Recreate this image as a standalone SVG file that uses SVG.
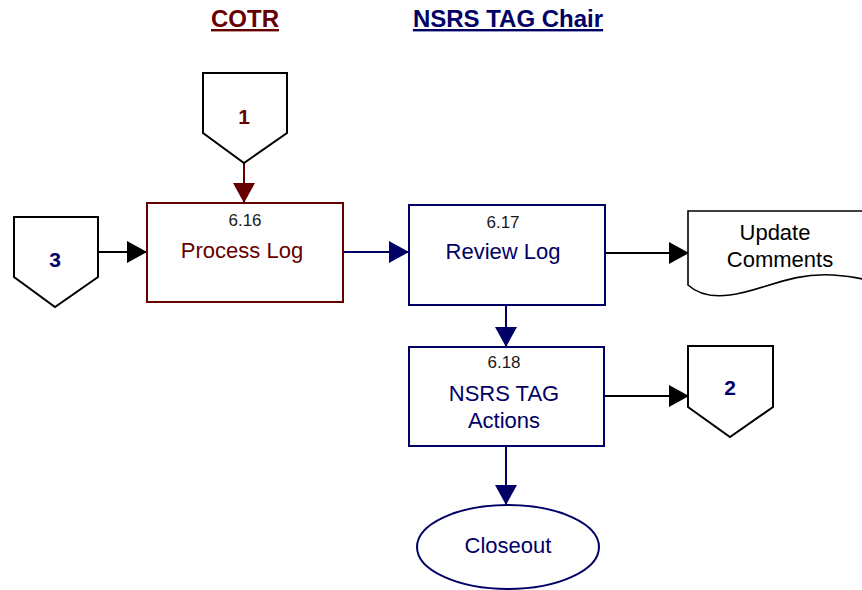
<svg xmlns="http://www.w3.org/2000/svg" width="862" height="590" viewBox="0 0 862 590">
<style>
text{font-family:"Liberation Sans",Arial,sans-serif;text-anchor:middle}
.hdr{font-size:24px;font-weight:bold;text-decoration:underline;text-decoration-thickness:3px}
.num{font-size:17px;fill:#1a1a1a}
.lbl{font-size:22px}
.conn{font-size:21px;font-weight:bold}
.red{fill:#660000}
.navy{fill:#000066}
.box{fill:#fff;stroke-width:2}
.shape{fill:#fff;stroke:#000;stroke-width:2}
.ln{fill:none;stroke-width:2}
</style>
<defs>
<marker id="aK" markerUnits="userSpaceOnUse" markerWidth="22" markerHeight="24" refX="20" refY="11" orient="auto"><path d="M0,0 L20,11 L0,22 Z" fill="#000"/></marker>
<marker id="aN" markerUnits="userSpaceOnUse" markerWidth="22" markerHeight="24" refX="20" refY="11" orient="auto"><path d="M0,0 L20,11 L0,22 Z" fill="#000066"/></marker>
<marker id="aR" markerUnits="userSpaceOnUse" markerWidth="22" markerHeight="24" refX="20" refY="11" orient="auto"><path d="M0,0 L20,11 L0,22 Z" fill="#660000"/></marker>
</defs>
<g id="headers">
<text x="245" y="27" class="hdr red">COTR</text>
<text x="508" y="27" class="hdr navy">NSRS TAG Chair</text>
</g>
<g id="connectors">
<line x1="244" y1="163" x2="244" y2="203" class="ln" stroke="#660000" marker-end="url(#aR)"/>
<line x1="98" y1="252" x2="147" y2="252" class="ln" stroke="#000" marker-end="url(#aK)"/>
<line x1="343" y1="252" x2="409" y2="252" class="ln" stroke="#000066" marker-end="url(#aN)"/>
<line x1="605" y1="253" x2="689" y2="253" class="ln" stroke="#000" marker-end="url(#aK)"/>
<line x1="506" y1="305" x2="506" y2="347" class="ln" stroke="#000066" marker-end="url(#aN)"/>
<line x1="605" y1="396" x2="689" y2="396" class="ln" stroke="#000" marker-end="url(#aK)"/>
<line x1="506" y1="446" x2="506" y2="505" class="ln" stroke="#000066" marker-end="url(#aN)"/>
</g>
<g id="offpage1">
<path d="M203,73 H287 V133 L244,163 L203,133 Z" class="shape"/>
<text x="244" y="124" class="conn red">1</text>
</g>
<g id="offpage3">
<path d="M14,217 H98 V277 L55,307 L14,277 Z" class="shape"/>
<text x="55" y="267" class="conn navy">3</text>
</g>
<g id="offpage2">
<path d="M688,346 H773 V407 L730,437 L688,407 Z" class="shape"/>
<text x="730" y="395" class="conn navy">2</text>
</g>
<g id="n616">
<rect x="147" y="203" width="196" height="99" class="box" stroke="#660000"/>
<text x="245" y="226" class="num">6.16</text>
<text x="242" y="258" class="lbl red">Process Log</text>
</g>
<g id="n617">
<rect x="409" y="205" width="196" height="100" class="box" stroke="#000066"/>
<text x="503" y="228" class="num">6.17</text>
<text x="503" y="259" class="lbl navy">Review Log</text>
</g>
<g id="n618">
<rect x="409" y="347" width="195" height="99" class="box" stroke="#000066"/>
<text x="504" y="368" class="num">6.18</text>
<text x="504" y="401" class="lbl navy">NSRS TAG</text>
<text x="504" y="428" class="lbl navy">Actions</text>
</g>
<g id="updateComments">
<path d="M688,211 H870 V281 C860,278 848,276 833,275 C790,272 760,292 730,295 C715,297 700,296 688,285 Z" fill="#fff" stroke="#000" stroke-width="1.6"/>
<text x="775" y="240" class="lbl" fill="#000">Update</text>
<text x="780" y="267" class="lbl" fill="#000">Comments</text>
</g>
<g id="closeout">
<ellipse cx="508" cy="547" rx="91" ry="42" class="box" stroke="#000066"/>
<text x="508" y="553" class="lbl navy">Closeout</text>
</g>
</svg>
